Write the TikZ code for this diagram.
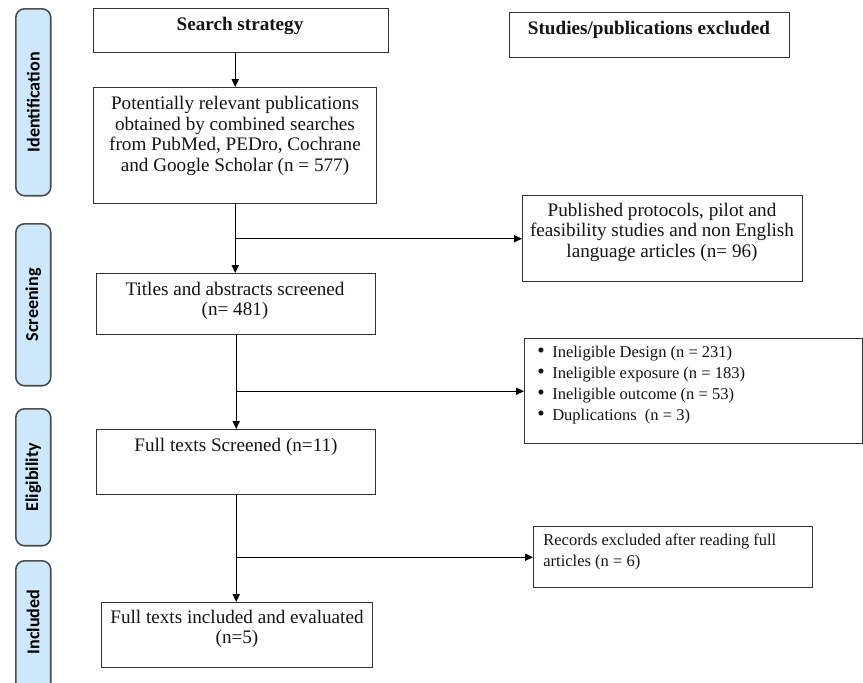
\documentclass[tikz,border=0pt]{standalone}
\usepackage{fontspec}
\setmainfont{Liberation Serif}
\newfontfamily\tabfont{Carlito}
\usetikzlibrary{calc,arrows.meta}
\definecolor{bg}{HTML}{FFFFFF}
\definecolor{boxline}{HTML}{333333}
\definecolor{tabfill}{HTML}{CCE8FA}
\definecolor{tabline}{HTML}{4D4D4D}
\definecolor{ink}{HTML}{141414}
\tikzset{
  box/.style={draw=boxline, line width=0.85pt, anchor=north west, inner sep=0pt},
  tab/.style={draw=tabline, fill=tabfill, line width=0.9pt, rounded corners=5pt, anchor=north west, inner sep=0pt, minimum width=0.7cm},
  tablab/.style={rotate=90, text=black, font=\tabfont\bfseries\fontsize{10.3}{12}\selectfont},
  lab/.style={align=center, text=ink, font=\fontsize{10.9}{11.7}\selectfont},
  head/.style={text=ink, font=\bfseries\fontsize{10.9}{12}\selectfont},
  labl/.style={align=left, anchor=north west, inner sep=0pt, text=ink, font=\fontsize{9.4}{11.9}\selectfont},
  flow/.style={draw=black, line width=0.8pt, -{Triangle[length=4.5pt,width=4pt]}},
}
\newcommand{\itm}[1]{\makebox[8.5pt][l]{\large\textbullet}#1}

\begin{document}
\begin{tikzpicture}[x=0.02cm, y=-0.02cm]
  \clip (0,0) rectangle (863,683);
  \fill[bg] (0,0) rectangle (863,683);
  % stage tabs
  \node[tab, minimum height=3.74cm] (idtab) at (15,8) {};
  \node[tab, minimum height=3.24cm] (sctab) at (15,223) {};
  \node[tab, minimum height=2.74cm] (eltab) at (15,408) {};
  \node[tab, minimum height=2.9cm] (intab) at (15,560) {};
  \node[tablab] (idlab) at (idtab.center) {Identification};
  \node[tablab] (sclab) at (sctab.center) {Screening};
  \node[tablab] (ellab) at (eltab.center) {Eligibility};
  \node[tablab] (inlab) at (33,622) {Included};
  % main column
  \node[box, minimum width=5.9cm, minimum height=0.88cm] (search) at (93,8) {};
  \node[box, minimum width=5.66cm, minimum height=2.32cm] (potent) at (93,87) {};
  \node[box, minimum width=5.58cm, minimum height=1.22cm] (titles) at (96,273) {};
  \node[box, minimum width=5.58cm, minimum height=1.3cm] (fulls) at (96,429) {};
  \node[box, minimum width=5.42cm, minimum height=1.3cm] (incl) at (101,602) {};
  % excluded column
  \node[box, minimum width=5.6cm, minimum height=0.9cm] (excl) at (509,12) {};
  \node[box, minimum width=5.6cm, minimum height=1.72cm] (proto) at (522,195) {};
  \node[box, minimum width=6.76cm, minimum height=2.1cm] (inel) at (524,338) {};
  \node[box, minimum width=5.58cm, minimum height=1.22cm] (recs) at (533,526) {};
  % texts
  \node[head] (searchtxt) at (240,26) {Search strategy};
  \node[lab] (potenttxt) at (235,136) {Potentially relevant publications\\obtained by combined searches\\from PubMed, PEDro, Cochrane\\and Google Scholar (n = 577)};
  \node[lab] (titlestxt) at (235,301) {Titles and abstracts screened\\(n= 481)};
  \node[lab] (fullstxt) at (236,447) {Full texts Screened (n=11)};
  \node[lab] (incltxt) at (237,629) {Full texts included and evaluated\\(n=5)};
  \node[head] (excltxt) at (649,30) {Studies/publications excluded};
  \node[lab] (prototxt) at (662,232) {Published protocols, pilot and\\feasibility studies and non English\\language articles (n= 96)};
  \node[labl] (ineltxt) at (537,346) {\itm{Ineligible Design (n = 231)}\\\itm{Ineligible exposure (n = 183)}\\\itm{Ineligible outcome (n = 53)}\\\itm{Duplications\ \ (n = 3)}};
  \node[labl] (recstxt) at (543,534) {Records excluded after reading full\\articles (n = 6)};
  % connectors
  \draw[flow] (potent.north |- search.south) -- (potent.north);
  \draw[flow] (potent.south) -- (potent.south |- titles.north);
  \draw[flow] (potent.south |- proto.west) -- (proto.west);
  \draw[flow] (titles.south) -- (titles.south |- fulls.north);
  \draw[flow] (titles.south |- inel.west) -- (inel.west);
  \draw[flow] (fulls.south) -- (fulls.south |- incl.north);
  \draw[flow] (fulls.south |- recs.west) -- (recs.west);
\end{tikzpicture}
\end{document}
